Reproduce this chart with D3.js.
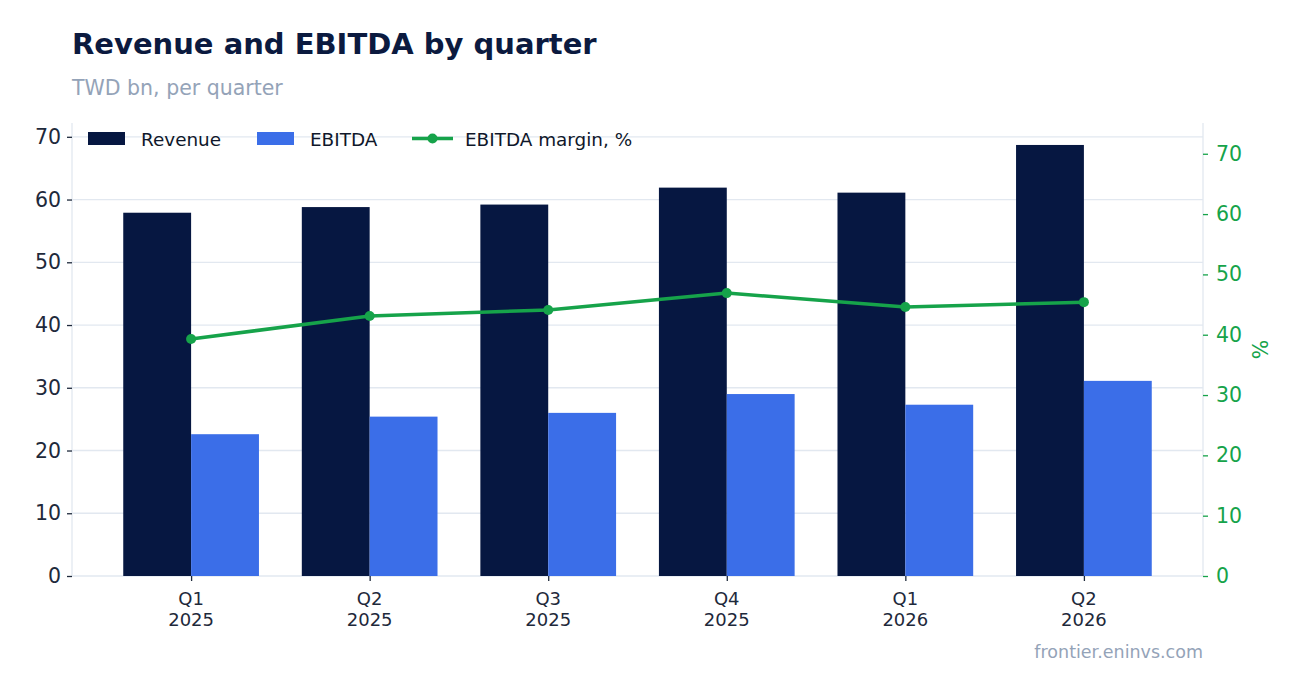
<!DOCTYPE html>
<html>
<head>
<meta charset="utf-8">
<script src="https://cdn.jsdelivr.net/npm/d3@7"></script>
<style>
  body { margin: 0; background: #fff; }
  svg { font-family: "DejaVu Sans", sans-serif; }
</style>
</head>
<body>
<div id="chart"></div>
<script>
// chart data
var quarters = ["Q1", "Q2", "Q3", "Q4", "Q1", "Q2"];
var years = ["2025", "2025", "2025", "2025", "2026", "2026"];
var revenue = [57.9, 58.8, 59.2, 61.9, 61.1, 68.7];
var ebitda = [22.6, 25.4, 26.0, 29.0, 27.3, 31.1];
var margin = [39.3, 43.1, 44.1, 46.9, 44.6, 45.4];
var leftTicks = [0, 10, 20, 30, 40, 50, 60, 70];
var rightTicks = [0, 10, 20, 30, 40, 50, 60, 70];

function init() {
    var W = 1302, H = 693;
    var left = 72, right = 1203, top = 123, bottom = 576;

    var navy = "#061741", blue = "#3b6ee8", green = "#16a34a";
    var grid = "#e2e8f0", tickText = "#1e293b";

    var svg = d3.select("#chart").append("svg")
        .attr("width", W).attr("height", H);

    var idx = d3.range(revenue.length);

    // x positions of group centres
    var x = d3.scalePoint()
        .domain(idx)
        .range([left, right])
        .padding(0.667);
    var step = x.step();
    var barW = step * 0.38;

    var yL = d3.scaleLinear().domain([0, 72.2]).range([bottom, top]);
    var yR = d3.scaleLinear().domain([0, 75.1]).range([bottom, top]);

    // gridlines
    svg.append("g").selectAll("line")
        .data(leftTicks.slice(1))
        .enter().append("line")
        .attr("x1", left).attr("x2", right)
        .attr("y1", function(d) { return yL(d); })
        .attr("y2", function(d) { return yL(d); })
        .attr("stroke", grid).attr("stroke-width", 1.3);

    // spines
    svg.append("line").attr("x1", left).attr("x2", left).attr("y1", top).attr("y2", bottom)
        .attr("stroke", grid).attr("stroke-width", 1.3);
    svg.append("line").attr("x1", right).attr("x2", right).attr("y1", top).attr("y2", bottom)
        .attr("stroke", grid).attr("stroke-width", 1.3);
    svg.append("line").attr("x1", left).attr("x2", right).attr("y1", bottom).attr("y2", bottom)
        .attr("stroke", grid).attr("stroke-width", 1.3);

    // bars
    svg.append("g").selectAll("rect")
        .data(idx)
        .enter().append("rect")
        .attr("x", function(i) { return x(i) - barW; })
        .attr("y", function(i) { return yL(revenue[i]); })
        .attr("width", barW)
        .attr("height", function(i) { return bottom - yL(revenue[i]); })
        .attr("fill", navy);

    svg.append("g").selectAll("rect")
        .data(idx)
        .enter().append("rect")
        .attr("x", function(i) { return x(i); })
        .attr("y", function(i) { return yL(ebitda[i]); })
        .attr("width", barW)
        .attr("height", function(i) { return bottom - yL(ebitda[i]); })
        .attr("fill", blue);

    // margin line
    var line = d3.line()
        .x(function(i) { return x(i); })
        .y(function(i) { return yR(margin[i]); });
    svg.append("path")
        .datum(idx)
        .attr("d", line)
        .attr("fill", "none")
        .attr("stroke", green)
        .attr("stroke-width", 3.5)
        .attr("stroke-linejoin", "round");
    svg.append("g").selectAll("circle")
        .data(idx)
        .enter().append("circle")
        .attr("cx", function(i) { return x(i); })
        .attr("cy", function(i) { return yR(margin[i]); })
        .attr("r", 5)
        .attr("fill", green);

    // left axis
    var gl = svg.append("g").attr("transform", "translate(" + left + ",0)")
        .call(d3.axisLeft(yL).tickValues(leftTicks).tickSize(5).tickPadding(6));
    gl.select(".domain").remove();
    gl.selectAll("line").attr("stroke", tickText).attr("stroke-width", 1.3);
    gl.selectAll("text").attr("fill", tickText).attr("font-size", 20.5)
        .attr("font-family", "DejaVu Sans");

    // right axis
    var gr = svg.append("g").attr("transform", "translate(" + right + ",0)")
        .call(d3.axisRight(yR).tickValues(rightTicks).tickSize(5).tickPadding(8));
    gr.select(".domain").remove();
    gr.selectAll("line").attr("stroke", green).attr("stroke-width", 1.3);
    gr.selectAll("text").attr("fill", green).attr("font-size", 20.5)
        .attr("font-family", "DejaVu Sans");

    // x axis
    var gx = svg.append("g").attr("transform", "translate(0," + bottom + ")")
        .call(d3.axisBottom(x).tickSize(5).tickFormat(""));
    gx.select(".domain").remove();
    gx.selectAll("line").attr("stroke", tickText).attr("stroke-width", 1.3);
    var xl = svg.append("g").selectAll("text")
        .data(idx)
        .enter().append("text")
        .attr("x", function(i) { return x(i); })
        .attr("y", bottom + 29)
        .attr("text-anchor", "middle")
        .attr("font-size", 18)
        .attr("fill", tickText);
    xl.append("tspan").attr("x", function(i) { return x(i); })
        .text(function(i) { return quarters[i]; });
    xl.append("tspan").attr("x", function(i) { return x(i); }).attr("dy", 21)
        .text(function(i) { return years[i]; });

    // right axis label
    svg.append("text")
        .attr("transform", "translate(1268," + ((top + bottom) / 2) + ") rotate(-90)")
        .attr("text-anchor", "middle")
        .attr("font-size", 20.5)
        .attr("fill", green)
        .text("%");

    // legend
    var lg = svg.append("g").attr("font-size", 18.4).attr("fill", "#0f172a");
    lg.append("rect").attr("x", 88).attr("y", 132).attr("width", 37).attr("height", 13).attr("fill", navy);
    lg.append("text").attr("x", 141).attr("y", 145.5).text("Revenue");
    lg.append("rect").attr("x", 257).attr("y", 132).attr("width", 37).attr("height", 13).attr("fill", blue);
    lg.append("text").attr("x", 310).attr("y", 145.5).text("EBITDA");
    lg.append("line").attr("x1", 412).attr("x2", 453).attr("y1", 138.5).attr("y2", 138.5)
        .attr("stroke", green).attr("stroke-width", 3.5);
    lg.append("circle").attr("cx", 432.5).attr("cy", 138.5).attr("r", 5).attr("fill", green);
    lg.append("text").attr("x", 465).attr("y", 145.5).text("EBITDA margin, %");

    // titles
    svg.append("text").attr("x", 72).attr("y", 54)
        .attr("font-size", 29).attr("font-weight", "bold").attr("fill", "#0b1a3f")
        .text("Revenue and EBITDA by quarter");
    svg.append("text").attr("x", 72).attr("y", 95)
        .attr("font-size", 20.5).attr("fill", "#94a3b8")
        .text("TWD bn, per quarter");
    svg.append("text").attr("x", right).attr("y", 658)
        .attr("text-anchor", "end")
        .attr("font-size", 17.5).attr("fill", "#94a3b8")
        .text("frontier.eninvs.com");
}
window.onload = init;
</script>
</body>
</html>
